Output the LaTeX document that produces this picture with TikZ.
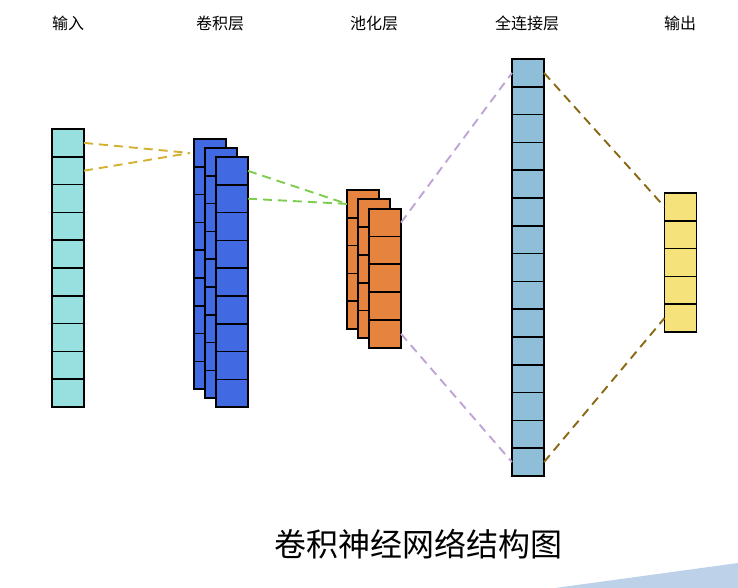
\documentclass[tikz,border=0pt]{standalone}
\usepackage{fontspec}
\newfontfamily\cjk{Noto Sans CJK SC}
\definecolor{inc}{HTML}{98E0E0}
\definecolor{convc}{HTML}{4169E1}
\definecolor{poolc}{HTML}{E6833F}
\definecolor{fcc}{HTML}{8FBFD8}
\definecolor{outc}{HTML}{F5E27A}
\definecolor{goldl}{HTML}{D4B030}
\definecolor{greenl}{HTML}{7DCE4F}
\definecolor{purpl}{HTML}{C0A4D6}
\definecolor{brownl}{HTML}{8B6914}
\definecolor{wedge}{HTML}{BDD1E9}
\tikzset{
  cell/.style={draw=black, line width=1.7pt, minimum width=32pt, minimum height=27.8pt, inner sep=0pt, outer sep=0pt},
  conn/.style={line width=1.9pt, dash pattern=on 9pt off 6pt},
  lab/.style={font=\cjk\fontsize{16}{16}\selectfont, anchor=center},
}
\begin{document}
\begin{tikzpicture}[x=1pt, y=-1pt]
\useasboundingbox (0,0) rectangle (738,588);
\fill[wedge] (555,588) -- (738,563) -- (738,588) -- cycle;
% labels
\node[lab] (l1) at (68,23) {输入};
\node[lab] (l2) at (220,23) {卷积层};
\node[lab] (l3) at (374,23) {池化层};
\node[lab] (l4) at (527,23) {全连接层};
\node[lab] (l5) at (680,23) {输出};
% input
\foreach \i in {0,...,9} \node[cell, fill=inc] (in\i) at (68,{129+27.8*\i+13.9}) {};
% conv stacks
\foreach \s/\x/\t in {a/210/139, b/221/148, c/232/157}
  \foreach \i in {0,...,8} \node[cell, fill=convc] (conv\s\i) at (\x,{\t+27.8*\i+13.9}) {};
% pool stacks
\foreach \s/\x/\t in {a/363/190, b/374/199.3, c/385/208.7}
  \foreach \i in {0,...,4} \node[cell, fill=poolc] (pool\s\i) at (\x,{\t+27.8*\i+13.9}) {};
% fc
\foreach \i in {0,...,14} \node[cell, fill=fcc] (fc\i) at (528,{59+27.8*\i+13.9}) {};
% output
\foreach \i in {0,...,4} \node[cell, fill=outc] (out\i) at (680.5,{193+27.8*\i+13.9}) {};
% connectors
\coordinate (cin) at (190,153);
\draw[conn, goldl] (in0.east) -- (cin);
\draw[conn, goldl] (in1.east) -- (cin);
\draw[conn, greenl] (convc0.east) -- (poola0.west);
\draw[conn, greenl] (convc1.east) -- (poola0.west);
\draw[conn, purpl] (poolc0.east) -- (fc0.west);
\draw[conn, purpl] (poolc4.east) -- (fc14.west);
\draw[conn, brownl] (fc0.east) -- (out0.west);
\draw[conn, brownl] (fc14.east) -- (out4.west);
% title
\node[font=\cjk\fontsize{32}{32}\selectfont] (title) at (418,544) {卷积神经网络结构图};
\end{tikzpicture}
\end{document}
